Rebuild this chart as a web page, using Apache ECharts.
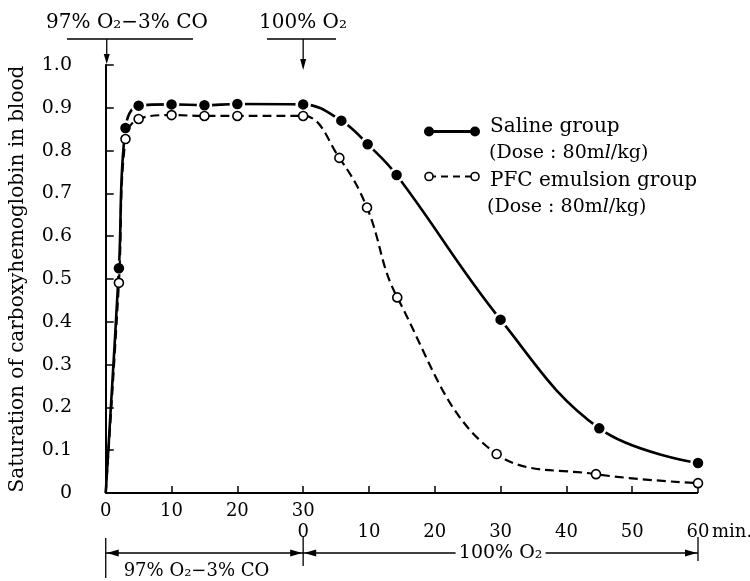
<!DOCTYPE html>
<html>
<head>
<meta charset="utf-8">
<script src="https://cdn.jsdelivr.net/npm/echarts@6/dist/echarts.min.js"></script>
<style>html,body{margin:0;padding:0;background:#fff;}#c{width:750px;height:581px;}</style>
</head>
<body>
<div id="c"></div>
<script>
// ---- data ----
const phase1Len = 30; // minutes of 97% O2 - 3% CO exposure
const salineT1 = [0, 2, 3, 5, 10, 15, 20, 30];
const salineV1 = [0, 0.525, 0.853, 0.905, 0.908, 0.906, 0.909, 0.908];
const salineT2 = [5.8, 9.8, 14.2, 30, 45, 60];
const salineV2 = [0.870, 0.815, 0.743, 0.405, 0.151, 0.070];
const pfcT1 = [0, 2, 3, 5, 10, 15, 20, 30];
const pfcV1 = [0, 0.491, 0.827, 0.874, 0.883, 0.881, 0.881, 0.881];
const pfcT2 = [5.5, 9.7, 14.3, 29.4, 44.5, 60];
const pfcV2 = [0.783, 0.667, 0.457, 0.091, 0.044, 0.023];
const xTicks1 = [0, 10, 20, 30];
const xTicks2 = [0, 10, 20, 30, 40, 50, 60];
const yTicks = [0, 0.1, 0.2, 0.3, 0.4, 0.5, 0.6, 0.7, 0.8, 0.9, 1.0];
const seriesNames = ['Saline group', 'PFC emulsion group'];
const doseText = '(Dose : 80m{i|l}/kg)';
const yTitle = 'Saturation of carboxyhemoglobin in blood';
const gas1 = '97% O₂−3% CO';
const gas2 = '100% O₂';

const FONT = 'DejaVu Serif';

function build(t1, v1, t2, v2) {
  const d = [];
  t1.forEach((t, i) => d.push(i === 0 && v1[i] === 0 ? {value: [t, v1[i]], symbol: 'none'} : [t, v1[i]]));
  t2.forEach((t, i) => d.push([t + phase1Len, v2[i]]));
  return d;
}
const xTickVals = xTicks1.concat(xTicks2.slice(1).map(t => t + phase1Len));

const chart = echarts.init(document.getElementById('c'));
const option = {
  animation: false,
  backgroundColor: '#fff',
  grid: {left: 85, right: 52, top: 65, bottom: 88},
  xAxis: {
    type: 'value', min: -3, max: 90,
    axisLine: {show: false},
    splitLine: {show: false},
    axisTick: {show: true, inside: true, length: 7, customValues: xTickVals, lineStyle: {color: '#000', width: 1.5}},
    axisLabel: {
      customValues: xTickVals, color: '#000', fontFamily: FONT, fontSize: 18, lineHeight: 21, margin: 8,
      formatter: v => v < phase1Len ? String(v) : (v === phase1Len ? phase1Len + '\n0' : '\n' + (v - phase1Len))
    }
  },
  yAxis: {
    type: 'value', min: 0, max: 1, interval: 0.1,
    axisLine: {show: true, lineStyle: {color: '#000', width: 2}},
    axisTick: {show: true, inside: true, length: 8, lineStyle: {color: '#000', width: 1.5}},
    splitLine: {show: false},
    axisLabel: {color: '#000', fontFamily: FONT, fontSize: 19, margin: 14,
      formatter: v => v === 0 ? '0' : v.toFixed(1)},
    name: yTitle, nameLocation: 'middle', nameGap: 58,
    nameTextStyle: {color: '#000', fontFamily: FONT, fontSize: 20}
  },
  series: [
    {
      name: seriesNames[0], type: 'line', data: build(salineT1, salineV1, salineT2, salineV2),
      smooth: 0.4,
      symbol: 'circle', symbolSize: 13,
      itemStyle: {color: '#000', borderColor: '#fff', borderWidth: 2.5},
      lineStyle: {color: '#000', width: 2.6},
      z: 3,
      markLine: {silent: true, symbol: 'none', label: {show: false},
        lineStyle: {color: '#000', width: 2, type: 'solid'},
        data: [[{coord: [0, 0]}, {coord: [phase1Len + xTicks2[xTicks2.length - 1], 0]}]]}
    },
    {
      name: seriesNames[1], type: 'line', data: build(pfcT1, pfcV1, pfcT2, pfcV2),
      smooth: 0.4,
      symbol: 'circle', symbolSize: 9,
      itemStyle: {color: '#fff', borderColor: '#000', borderWidth: 1.6},
      lineStyle: {color: '#000', width: 2.2, type: [9, 5]},
      z: 4
    }
  ]
};
chart.setOption(option);

// ---- annotations positioned through the axes ----
const P = (x, y) => chart.convertToPixel({gridIndex: 0}, [x, y]);
const x0 = P(0, 0)[0], x30 = P(phase1Len, 0)[0], xEnd = P(phase1Len + 60, 0)[0];
const txt = (x, y, text, size, align, extra) => ({
  type: 'text', x: x, y: y,
  style: Object.assign({text: text, fill: '#000', font: size + 'px "' + FONT + '"', align: align || 'left', verticalAlign: 'middle'}, extra || {})
});
const line = (x1, y1, x2, y2, w, dash) => ({type: 'line', shape: {x1, y1, x2, y2}, style: {stroke: '#000', lineWidth: w || 1.3, lineDash: dash || null}});
const tri = (pts) => ({type: 'polygon', shape: {points: pts}, style: {fill: '#000'}});

const g = [];
// top annotations
g.push(txt(127, 23, gas1, 20, 'center'));
g.push(line(67, 39, 193, 39));
g.push(line(x0 + 1, 39, x0 + 1, 58));
g.push(tri([[x0 + 1, 64], [x0 - 2, 54], [x0 + 4, 54]]));
g.push(txt(303, 23, gas2, 20, 'center'));
g.push(line(267, 39, 336, 39));
g.push(line(x30, 39, x30, 63));
g.push(tri([[x30, 70], [x30 - 3, 59], [x30 + 3, 59]]));
// min. label
g.push(txt(xEnd + 14, 532, 'min.', 18, 'left'));
// bottom bracket
const yb = 553;
g.push(line(x0, 538, x0, 578, 1.3));
g.push(line(x30, 537, x30, 566, 1.3));
g.push(line(xEnd, 537, xEnd, 561, 1.3));
g.push(line(x0, yb, x30, yb, 1.3));
g.push(tri([[x0 + 1, yb], [x0 + 13, yb - 3.5], [x0 + 13, yb + 3.5]]));
g.push(tri([[x30 - 1, yb], [x30 - 13, yb - 3.5], [x30 - 13, yb + 3.5]]));
const midX = (x30 + xEnd) / 2;
g.push(line(x30, yb, midX - 45, yb, 1.3));
g.push(line(midX + 45, yb, xEnd, yb, 1.3));
g.push(tri([[x30 + 1, yb], [x30 + 13, yb - 3.5], [x30 + 13, yb + 3.5]]));
g.push(tri([[xEnd - 1, yb], [xEnd - 13, yb - 3.5], [xEnd - 13, yb + 3.5]]));
g.push(txt(midX, yb, gas2, 19, 'center'));
g.push(txt((x0 + x30) / 2 - 8, 571, gas1, 18, 'center'));
// legend
const lx1 = 429, lx2 = 475;
g.push(line(lx1, 131.5, lx2, 131.5, 3));
g.push({type: 'circle', shape: {cx: lx1, cy: 131.5, r: 5}, style: {fill: '#000'}});
g.push({type: 'circle', shape: {cx: lx2, cy: 131.5, r: 5}, style: {fill: '#000'}});
g.push(line(lx1, 176.5, lx2, 176.5, 2.2, [7, 5]));
g.push({type: 'circle', shape: {cx: lx1, cy: 176.5, r: 4}, style: {fill: '#fff', stroke: '#000', lineWidth: 1.6}});
g.push({type: 'circle', shape: {cx: lx2, cy: 176.5, r: 4}, style: {fill: '#fff', stroke: '#000', lineWidth: 1.6}});
const rich = {i: {fontStyle: 'italic', fontFamily: FONT, fontSize: 19}};
g.push(txt(490, 127, seriesNames[0], 20));
g.push(txt(489, 153, doseText, 19, 'left', {rich: rich}));
g.push(txt(490, 181, seriesNames[1], 20));
g.push(txt(487, 207, doseText, 19, 'left', {rich: rich}));

chart.setOption({graphic: {elements: g}});
</script>
</body>
</html>
